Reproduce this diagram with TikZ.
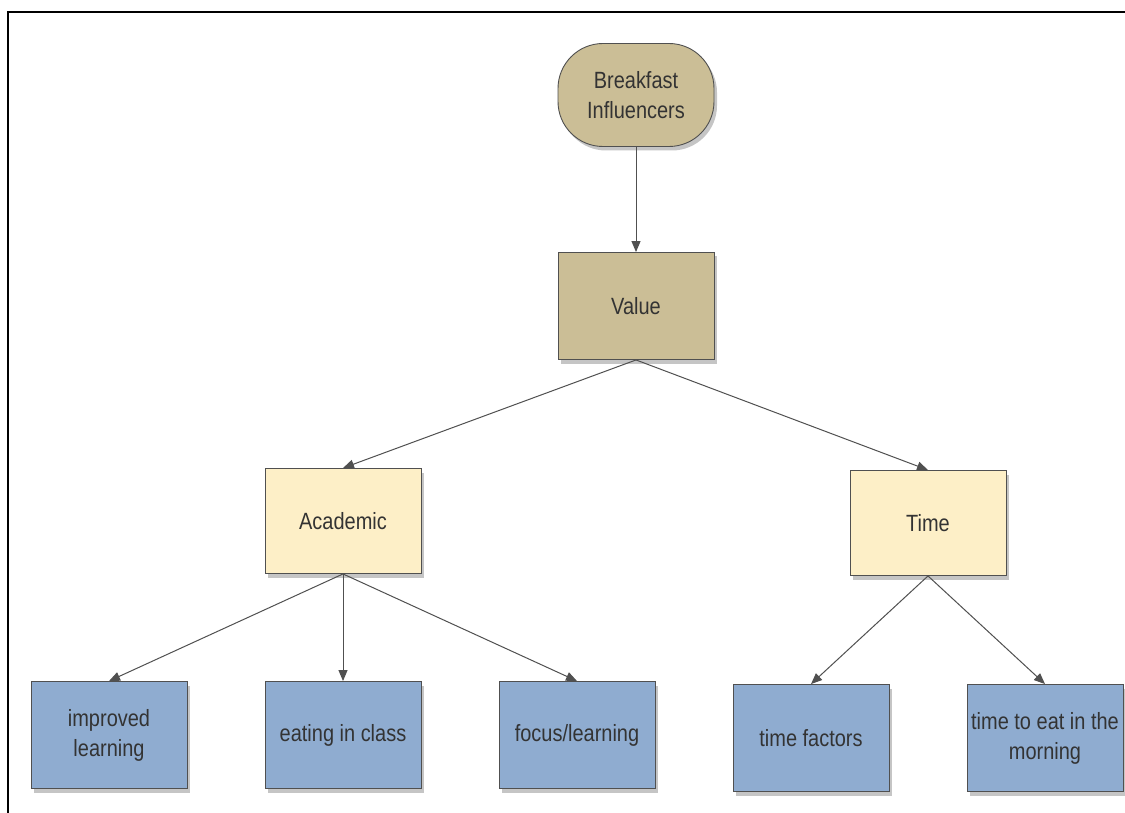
\documentclass[tikz,border=0pt]{standalone}
\usepackage{fontspec}
\setmainfont[FakeStretch=0.85]{Liberation Sans}
\usetikzlibrary{shadows,arrows.meta}
\definecolor{tanfill}{HTML}{CBBE96}
\definecolor{creamfill}{HTML}{FDEFC7}
\definecolor{bluefill}{HTML}{8FACD0}
\definecolor{edgegray}{HTML}{505050}
\definecolor{textgray}{HTML}{333333}
\tikzset{
  box/.style={draw=edgegray, line width=0.9pt, minimum width=156pt, minimum height=107pt,
    inner sep=1pt, align=center, text=textgray,
    font=\fontsize{23.5}{30}\selectfont,
    drop shadow={opacity=0.45, shadow xshift=3pt, shadow yshift=-4pt}},
  top/.style={box, fill=tanfill, rounded corners=45pt, minimum height=103pt},
  mid/.style={box, fill=tanfill},
  cat/.style={box, fill=creamfill, minimum height=105pt},
  leaf/.style={box, fill=bluefill},
  link/.style={draw=edgegray, line width=1pt, -{Triangle[length=11pt, width=9pt]}}
}
\begin{document}
\begin{tikzpicture}[x=1pt, y=-1pt]
  \useasboundingbox (0,0) rectangle (1125,813);
  \fill[white] (0,0) rectangle (1125,813);
  % frame of the canvas
  \draw[black, line width=2pt] (8,813) -- (8,12.5) -- (1125,12.5);

  \node[top]  (root) at (636,95)  {Breakfast\\Influencers};
  \node[mid]  (val)  at (636,306) {Value};
  \node[cat]  (acad) at (343,521) {Academic};
  \node[cat]  (time) at (928,523) {Time};
  \node[leaf] (imp)  at (109,735) {improved\\learning};
  \node[leaf] (eat)  at (343,735) {eating in class};
  \node[leaf] (foc)  at (577,735) {focus/learning};
  \node[leaf] (tf)   at (811,738) {time factors};
  \node[leaf] (tem)  at (1045,738) {time to eat in the\\morning};

  \draw[link] (root.south) -- (val.north);
  \draw[link] (val.south) -- (acad.north);
  \draw[link] (val.south) -- (time.north);
  \draw[link] (acad.south) -- (imp.north);
  \draw[link] (acad.south) -- (eat.north);
  \draw[link] (acad.south) -- (foc.north);
  \draw[link] (time.south) -- (tf.north);
  \draw[link] (time.south) -- (tem.north);
\end{tikzpicture}
\end{document}
